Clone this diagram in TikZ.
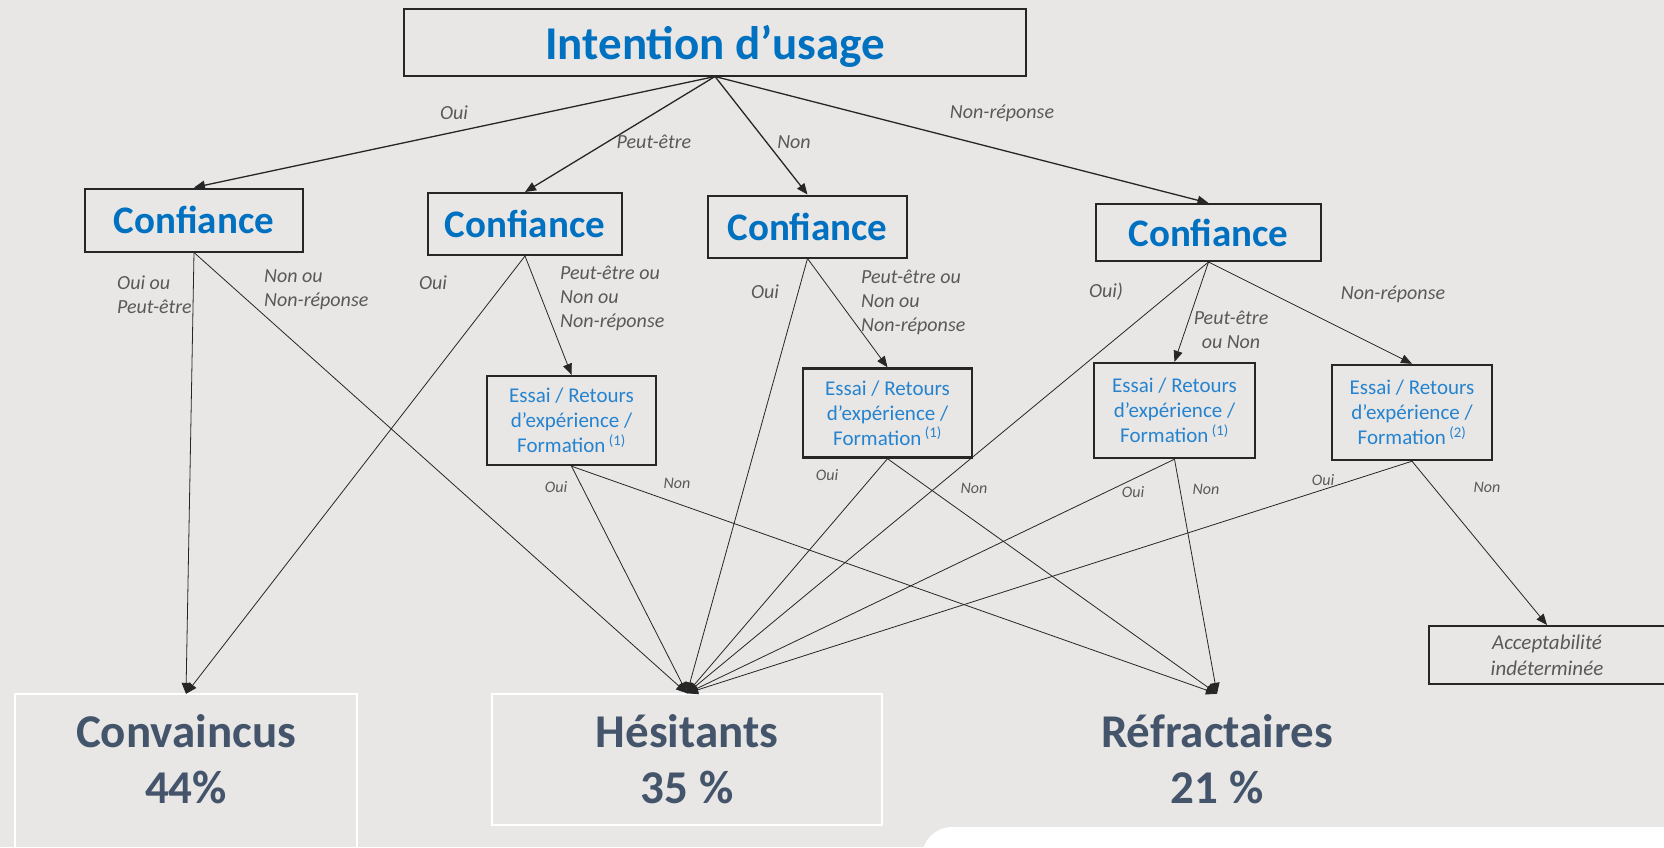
\documentclass[tikz,border=0pt]{standalone}
\usepackage{fontspec}
\setmainfont{Carlito}
\usetikzlibrary{arrows.meta}
\definecolor{bgcol}{HTML}{E8E7E5}
\definecolor{titleblue}{HTML}{0070C0}
\definecolor{essaiblue}{HTML}{2583CF}
\definecolor{lblgray}{HTML}{595959}
\definecolor{slate}{HTML}{44546A}
\newcommand\essai[1]{Essai / Retours\\d’expérience /\\Formation\,\textsuperscript{(#1)}}
\begin{document}
\begin{tikzpicture}[x=1pt,y=-1pt,
  box/.style={draw=black!85, line width=2pt, inner sep=0pt, text=titleblue, align=center},
  confbox/.style={box, font=\fontsize{39}{46}\selectfont\bfseries},
  essaibox/.style={box, line width=2.4pt, text=essaiblue, font=\fontsize{21}{25}\selectfont},
  lbl/.style={text=lblgray, font=\fontsize{20}{24}\selectfont\itshape, inner sep=0pt},
  sublbl/.style={text=lblgray, font=\fontsize{16}{19}\selectfont\itshape, inner sep=0pt},
  result/.style={text=slate, font=\fontsize{47}{56}\selectfont\bfseries, align=center, minimum height=131pt, inner sep=0pt},
  link/.style={draw=black!85, line width=1.3pt, -{Triangle[length=11pt,width=9pt]}},
  flow/.style={draw=black!85, line width=0.8pt, -{Triangle[length=11pt,width=9pt]}}
]
\fill[bgcol] (0,0) rectangle (1664,847);
\useasboundingbox (0,0) rectangle (1664,847);
\fill[white, rounded corners=30pt] (922,827) rectangle (1720,890);

% question de depart
\node[box, minimum width=622pt, minimum height=67pt, text depth=0pt, font=\fontsize{47}{56}\selectfont\bfseries] (usage) at (715,42) {Intention d’usage};

\node[confbox, minimum width=218pt, minimum height=63pt] (conf1) at (194,220) {Confiance};
\node[confbox, minimum width=194pt, minimum height=62pt] (conf2) at (525,224) {Confiance};
\node[confbox, minimum width=199pt, minimum height=62pt] (conf3) at (807.5,226.5) {Confiance};
\node[confbox, minimum width=225pt, minimum height=57pt] (conf4) at (1208.5,232.5) {Confiance};

\node[essaibox, minimum width=169pt, minimum height=89pt] (essai1) at (571.5,420.5) {\essai{1}};
\node[essaibox, minimum width=169pt, minimum height=89pt] (essai2) at (887.5,413) {\essai{1}};
\node[essaibox, minimum width=161pt, minimum height=95pt] (essai3) at (1174.5,410.5) {\essai{1}};
\node[essaibox, minimum width=160pt, minimum height=95pt] (essai4) at (1412,412.5) {\essai{2}};

\node[box, minimum width=236pt, minimum height=58pt, text=lblgray, font=\fontsize{21}{26}\selectfont\itshape] (accept) at (1547,655) {Acceptabilité\\indéterminée};

% profils
\node[result, minimum width=342pt] (conv) at (186,759.5) {Convaincus\\44\%};
\draw[white, line width=1.5pt] (conv.south west) ++(0,40) |- (conv.north east) -- ++(0,170);
\node[result, draw=white, line width=1.5pt, minimum width=390pt] (hes) at (687,759.5) {Hésitants\\35 \%};
\node[result] (refr) at (1217,759.5) {Réfractaires\\21 \%};

% fleches
\foreach \c in {conf1,conf2,conf3,conf4}
  \draw[link] (usage.south) -- (\c.north);
\draw[flow] (conf1.south) -- (conv.north);
\draw[flow] (conf1.south) -- (hes.north);
\draw[flow] (conf2.south) -- (conv.north);
\draw[flow] (conf2.south) -- (essai1.north);
\draw[flow] (conf3.south) -- (hes.north);
\draw[flow] (conf3.south) -- (essai2.north);
\draw[flow] (conf4.south) -- (hes.north);
\draw[flow] (conf4.south) -- (essai3.north);
\draw[flow] (conf4.south) -- (essai4.north);
\foreach \e in {essai1,essai2,essai3}{
  \draw[flow] (\e.south) -- (hes.north);
  \draw[flow] (\e.south) -- (refr.north);
}
\draw[flow] (essai4.south) -- (hes.north);
\draw[flow] (essai4.south) -- (accept.north);

% etiquettes
\node[lbl] (l-oui) at (454,113) {Oui};
\node[lbl] (l-peut) at (654,142) {Peut-être};
\node[lbl] (l-non) at (794,142) {Non};
\node[lbl] (l-nr) at (1002,113) {Non-réponse};
\node[lbl, align=left, anchor=west] (c1-oui) at (117,294.5) {Oui ou\\Peut-être};
\node[lbl, align=left, anchor=west] (c1-non) at (264,290) {Non ou\\Non-réponse};
\node[lbl] (c2-oui) at (433,283) {Oui};
\node[lbl, align=left, anchor=west] (c2-autre) at (560,298) {Peut-être ou\\Non ou\\Non-réponse};
\node[lbl] (c3-oui) at (765,292) {Oui};
\node[lbl, align=left, anchor=west] (c3-autre) at (861,302) {Peut-être ou\\Non ou\\Non-réponse};
\node[lbl] (c4-oui) at (1106,292) {Oui)};
\node[lbl, align=center] (c4-pn) at (1231,330) {Peut-être\\ou Non};
\node[lbl] (c4-nr) at (1393,294) {Non-réponse};

\node[sublbl] (e1-oui) at (556,487) {Oui};
\node[sublbl] (e1-non) at (677,483) {Non};
\node[sublbl] (e2-oui) at (827,475) {Oui};
\node[sublbl] (e2-non) at (974,488) {Non};
\node[sublbl] (e3-oui) at (1133,492) {Oui};
\node[sublbl] (e3-non) at (1206,489) {Non};
\node[sublbl] (e4-oui) at (1323,480) {Oui};
\node[sublbl] (e4-non) at (1487,487) {Non};
\end{tikzpicture}
\end{document}
